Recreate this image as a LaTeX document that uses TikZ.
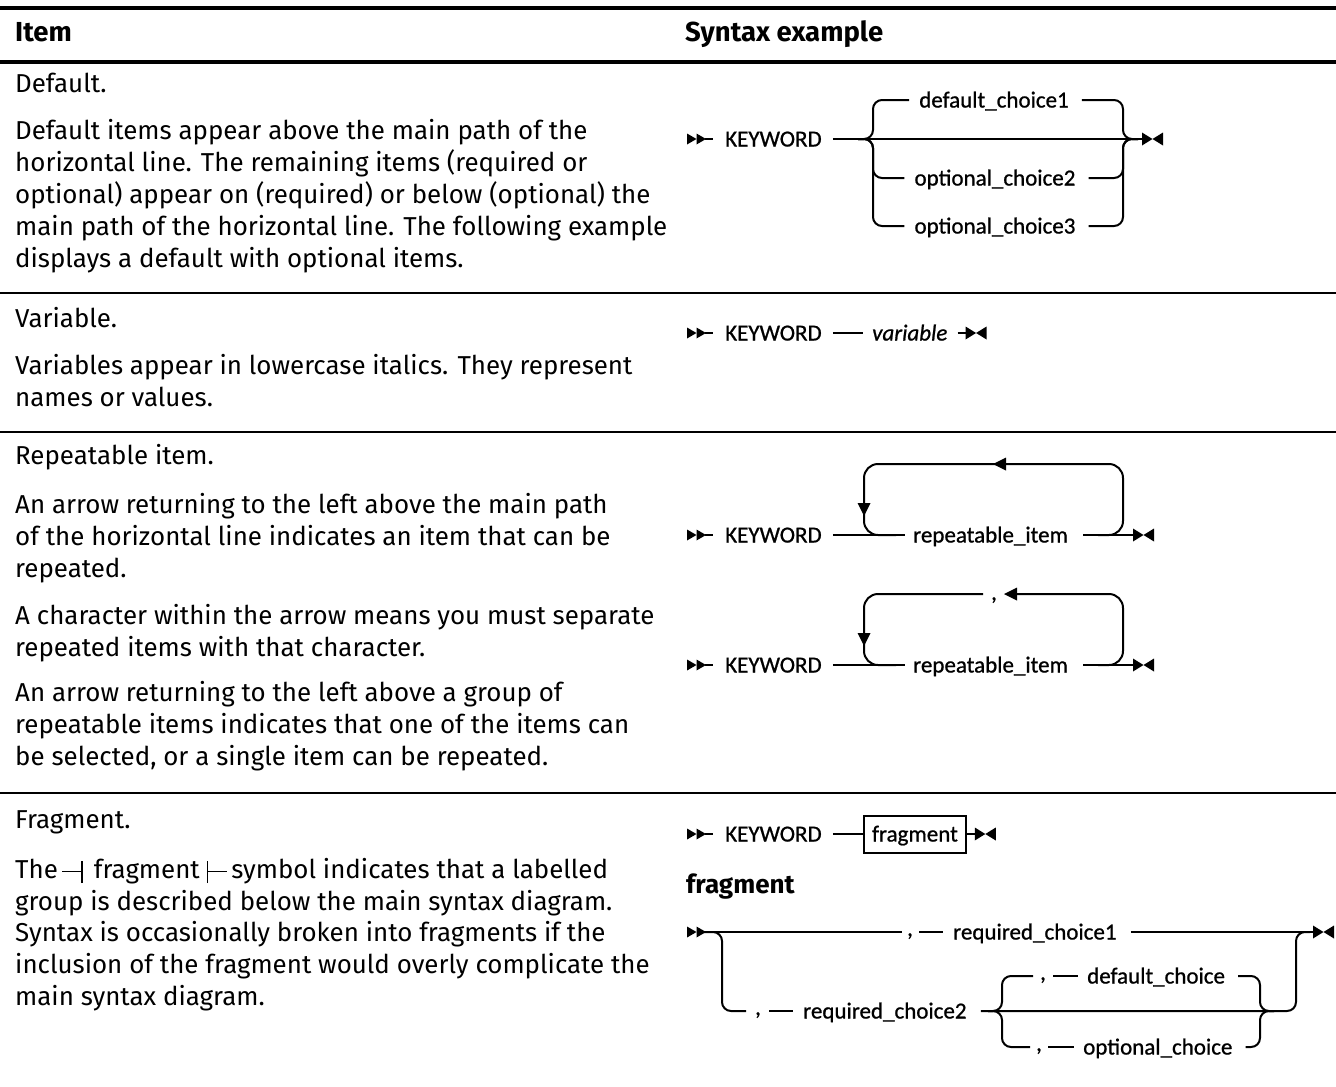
\documentclass[tikz,border=0pt]{standalone}
\usepackage{fontspec}
\setmainfont{Fira Sans}
\newfontfamily\dfont[FakeBold=0.8]{Carlito}
\usetikzlibrary{calc}
\tikzset{
  x=1pt, y=-1pt,
  body/.style={anchor=base west, inner sep=0pt, font=\fontsize{25.9}{30}\selectfont},
  head/.style={anchor=base west, inner sep=0pt, font=\fontsize{27.5}{30}\selectfont\bfseries},
  dlab/.style={inner sep=0pt, text height=15pt, text depth=0pt, font=\dfont\fontsize{23}{26}\selectfont},
  dcomma/.style={anchor=base, inner sep=0pt, font=\dfont\fontsize{23}{26}\selectfont},
  rail/.style={line width=2pt, rounded corners=9pt},
  loop/.style={line width=2pt, rounded corners=14pt},
  rulethick/.style={line width=3.2pt},
  rulethin/.style={line width=2.6pt},
  startmark/.pic={\fill (0,-5.5) -- (9.5,0) -- (0,5.5) -- cycle;
                  \fill (9.5,-5.5) -- (19,0) -- (9.5,5.5) -- cycle;
                  \draw[line width=2pt] (18,0) -- (26,0);},
  endmark/.pic={\fill (0,-6.5) -- (10.5,0) -- (0,6.5) -- cycle;
                \fill (21,-6.5) -- (10.5,0) -- (21,6.5) -- cycle;},
}
\begin{document}
\begin{tikzpicture}
\useasboundingbox (0,0) rectangle (1336,1087);
\fill[white] (0,0) rectangle (1336,1087);

% ---------- table rules ----------
\draw[rulethick] (0,8) -- (1336,8);
\draw[rulethick] (0,62) -- (1336,62);
\draw[rulethin] (0,293) -- (1336,293);
\draw[rulethin] (0,432) -- (1336,432);
\draw[rulethin] (0,793) -- (1336,793);

% ---------- header ----------
\node[head] (hitem) at (15,41) {Item};
\node[head] (hsyn) at (685,41) {Syntax example};

% ---------- left column ----------
\node[body] (t1) at (15,92) {Default.};
\node[body] (t2) at (15,139) {Default items appear above the main path of the};
\node[body] (t3) at (15,171) {horizontal line. The remaining items (required or};
\node[body] (t4) at (15,203) {optional) appear on (required) or below (optional) the};
\node[body] (t5) at (15,235) {main path of the horizontal line. The following example};
\node[body] (t6) at (15,267) {displays a default with optional items.};

\node[body] (t7) at (15,327) {Variable.};
\node[body] (t8) at (15,374) {Variables appear in lowercase italics. They represent};
\node[body] (t9) at (15,406) {names or values.};

\node[body] (t10) at (15,464) {Repeatable item.};
\node[body] (t11) at (15,513) {An arrow returning to the left above the main path};
\node[body] (t12) at (15,545) {of the horizontal line indicates an item that can be};
\node[body] (t13) at (15,577) {repeated.};
\node[body] (t14) at (15,624) {A character within the arrow means you must separate};
\node[body] (t15) at (15,656) {repeated items with that character.};
\node[body] (t16) at (15,701) {An arrow returning to the left above a group of};
\node[body] (t17) at (15,733) {repeatable items indicates that one of the items can};
\node[body] (t18) at (15,765) {be selected, or a single item can be repeated.};

\node[body] (t19) at (15,828) {Fragment.};
\node[body] (t20) at (15,878) {The\,\rule[6pt]{19pt}{1.5pt}\rule[-5pt]{1.5pt}{22pt}\ \,fragment\ \rule[-5pt]{1.5pt}{22pt}\rule[6pt]{19pt}{1.5pt}\,symbol indicates that a labelled};
\node[body] (t21) at (15,910) {group is described below the main syntax diagram.};
\node[body] (t22) at (15,941) {Syntax is occasionally broken into fragments if the};
\node[body] (t23) at (15,973) {inclusion of the fragment would overly complicate the};
\node[body] (t24) at (15,1005) {main syntax diagram.};

% ---------- diagram 1: default ----------
\pic at (687,139) {startmark};
\node[dlab,anchor=west] (k1) at (725,139) {KEYWORD};
\node[dlab] (d1) at (994,100) {default\_choice1};
\node[dlab] (o2) at (995,178) {optional\_choice2};
\node[dlab] (o3) at (995,226) {optional\_choice3};
\coordinate (e1) at (1142,139);
\pic at (e1) {endmark};
\draw[rail] ([xshift=11pt]k1.east) -- (e1);
\draw[rail] (858,139) -| (873,100) -- ([xshift=-10pt]d1.west);
\draw[rail] (858,139) -| (873,178) -- ([xshift=-10pt]o2.west);
\draw[rail] (858,139) -| (873,226) -- ([xshift=-10pt]o3.west);
\draw[rail] ([xshift=13pt]d1.east) -| (1123,139) -- (1138,139);
\draw[rail] ([xshift=13pt]o2.east) -| (1123,139) -- (1138,139);
\draw[rail] ([xshift=13pt]o3.east) -| (1123,139) -- (1138,139);

% ---------- diagram 2: variable ----------
\pic at (687,333) {startmark};
\node[dlab,anchor=west] (k2) at (725,333) {KEYWORD};
\node[dlab,anchor=west] (v2) at (872,333) {\itshape variable};
\coordinate (e2) at ([xshift=18pt]v2.east);
\draw[rail] ([xshift=11pt]k2.east) -- ([xshift=-9pt]v2.west);
\draw[rail] ([xshift=10pt]v2.east) -- (e2);
\pic at (e2) {endmark};

% ---------- diagram 3: repeatable ----------
\pic at (687,535) {startmark};
\node[dlab,anchor=west] (k3) at (725,535) {KEYWORD};
\node[dlab,anchor=west] (r3) at (913,535) {repeatable\_item};
\coordinate (e3) at (1133,535);
\draw[rail] ([xshift=11pt]k3.east) -- ([xshift=-8pt]r3.west);
\draw[rail] ([xshift=15pt]r3.east) -- (e3);
\pic at (e3) {endmark};
\draw[loop] (1098,535) -| (1123,464) -| (864,535) -- (896,535);
\fill (993,464) -- (1006,457.5) -- (1006,470.5) -- cycle;
\fill (864,516) -- (857.5,503) -- (870.5,503) -- cycle;

% ---------- diagram 4: repeatable with separator ----------
\pic at (687,665) {startmark};
\node[dlab,anchor=west] (k4) at (725,665) {KEYWORD};
\node[dlab,anchor=west] (r4) at (913,665) {repeatable\_item};
\node[dcomma] (c4) at (994,600) {,};
\coordinate (e4) at (1133,665);
\draw[rail] ([xshift=11pt]k4.east) -- ([xshift=-8pt]r4.west);
\draw[rail] ([xshift=15pt]r4.east) -- (e4);
\pic at (e4) {endmark};
\draw[loop] (1098,665) -| (1123,594) -- (1016,594);
\draw[loop] (983,594) -| (864,665) -- (896,665);
\fill (1004,594) -- (1017,587.5) -- (1017,600.5) -- cycle;
\fill (864,646) -- (857.5,633) -- (870.5,633) -- cycle;

% ---------- diagram 5: fragment reference ----------
\pic at (687,834) {startmark};
\node[dlab,anchor=west] (k5) at (725,834) {KEYWORD};
\node[dlab,anchor=west,draw,line width=2pt,inner xsep=8pt,minimum height=37pt] (f5) at (863,834) {fragment};
\coordinate (e5) at ([xshift=8pt]f5.east);
\draw[rail] ([xshift=11pt]k5.east) -- (f5.west);
\draw[rail] (f5.east) -- (e5);
\pic at (e5) {endmark};

\node[head,font=\fontsize{26}{30}\selectfont\bfseries] (fhead) at (686,893) {fragment};

% ---------- diagram 6: fragment definition ----------
\pic at (687,932) {startmark};
\node[dcomma] (c61) at (910,936) {,};
\node[dlab,anchor=west] (rc1) at (953,932) {required\_choice1};
\coordinate (e6) at (1313,932);
\draw[rail] (704,932) -- (902,932);
\draw[rail] (919,932) -- ([xshift=-10pt]rc1.west);
\draw[rail] ([xshift=14pt]rc1.east) -- (e6);
\pic at (e6) {endmark};

\node[dcomma] (c62) at (758,1015) {,};
\node[dlab,anchor=west] (rc2) at (803,1011) {required\_choice2};
\draw[rail] (704,932) -| (722,1011) -- (746,1011);
\draw[rail] (769,1011) -- ([xshift=-10pt]rc2.west);
\draw[rail] ([xshift=14pt]rc2.east) -| (1296,932) -- (1310,932);

\node[dcomma] (c63) at (1043,980) {,};
\node[dlab,anchor=west] (dc) at (1087,976) {default\_choice};
\node[dcomma] (c64) at (1039,1051) {,};
\node[dlab,anchor=west] (oc) at (1083,1047) {optional\_choice};
\draw[rail] (988,1011) -| (1002,976) -- (1033,976);
\draw[rail] (988,1011) -| (1002,1047) -- (1030,1047);
\draw[rail] (1053,976) -- ([xshift=-9pt]dc.west);
\draw[rail] (1048,1047) -- ([xshift=-9pt]oc.west);
\draw[rail] ([xshift=13pt]dc.east) -| (1260,1011) -- (1274,1011);
\draw[rail] ([xshift=13pt]oc.east) -| (1260,1011) -- (1274,1011);
\end{tikzpicture}
\end{document}
